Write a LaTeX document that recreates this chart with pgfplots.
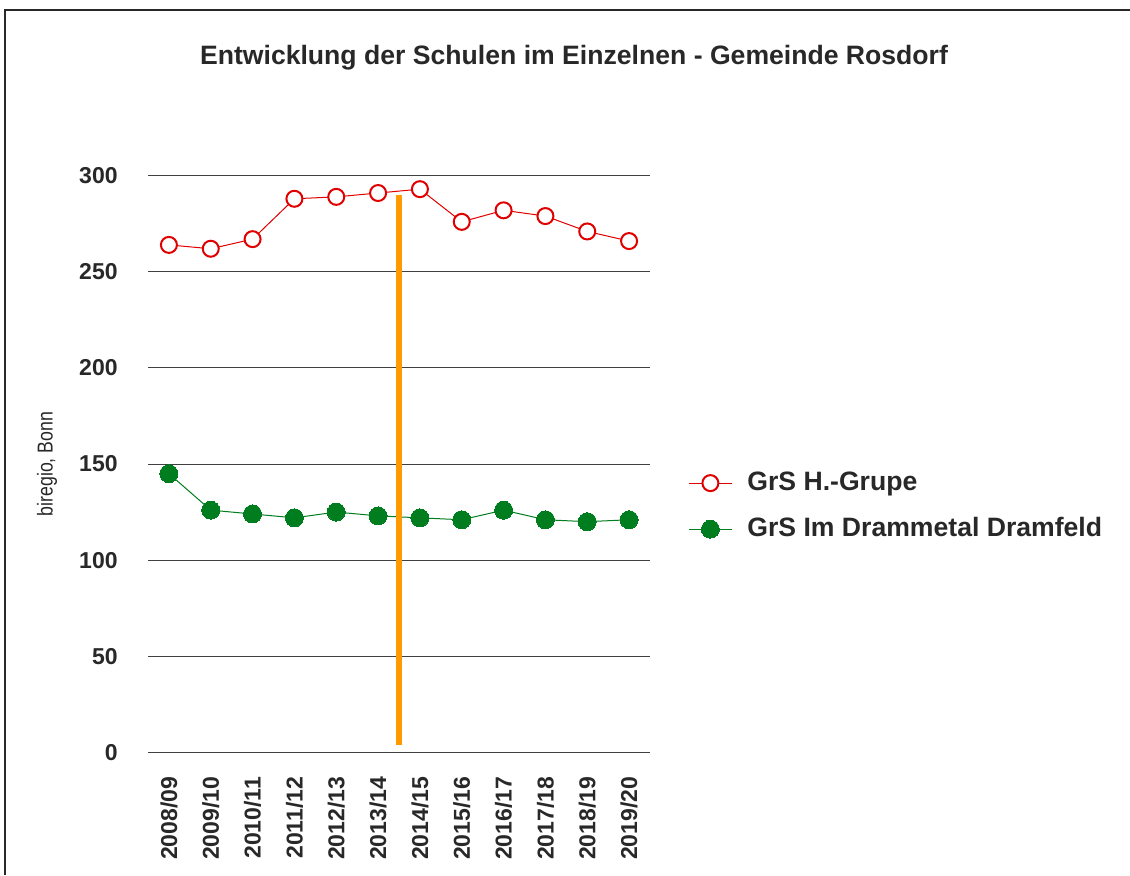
\documentclass[border=0pt]{standalone}
\usepackage{pgfplots}
\pgfplotsset{compat=1.18}
\usepackage{fontspec}
\setmainfont{Liberation Sans}
\newfontfamily\narrowfont[FakeStretch=0.82]{Liberation Sans}
\definecolor{rd}{RGB}{225,0,0}
\definecolor{gn}{RGB}{0,125,30}
\definecolor{og}{RGB}{255,155,0}
\definecolor{gr}{RGB}{40,40,40}
\begin{document}
\begin{tikzpicture}
\useasboundingbox (0,0) rectangle (565pt,-437.5pt);
\fill[white] (0,0) rectangle (565pt,-437.5pt);
\draw[gr, line width=0.8pt] (2.35pt,-437.5pt) -- (2.35pt,-5pt) -- (565pt,-5pt);
\node[font=\bfseries\fontsize{13.3}{15}\selectfont, text=gr] at (287pt,-29pt) {Entwicklung der Schulen im Einzelnen - Gemeinde Rosdorf};
\begin{axis}[
  at={(74pt,-376.15pt)}, anchor=south west,
  scale only axis, width=251pt, height=288.3pt,
  xmin=-0.5, xmax=11.5, ymin=0, ymax=300,
  ytick={0,50,...,300},
  xtick={0,...,11},
  xticklabels={2008/09,2009/10,2010/11,2011/12,2012/13,2013/14,2014/15,2015/16,2016/17,2017/18,2018/19,2019/20},
  ymajorgrids, grid style={black!75, line width=0.5pt},
  axis line style={draw=none},
  major tick length=0pt,
  clip=false,
  tick label style={font=\bfseries\fontsize{11.5}{13}\selectfont, text=gr},
  /pgf/number format/assume math mode=true,
  yticklabel style={anchor=east, inner sep=0pt, xshift=-15pt},
  xticklabel style={yshift=-12pt, rotate=90, anchor=east, inner sep=0pt},
  ylabel={biregio, Bonn},
  ylabel style={at={(axis description cs:-0.2012,0.5)}, anchor=center, font=\narrowfont\fontsize{10.8}{12}\selectfont, text=gr},
  legend style={at={(axis description cs:1.0757,0.427)}, anchor=west, draw=none, fill=none, inner sep=0pt,
    font=\bfseries\fontsize{13.3}{15}\selectfont, text=gr, row sep=11pt, column sep=7.5pt,
    nodes={inner sep=0pt, text height=9.5pt, text depth=2.5pt}},
  legend cell align=left,
  legend image code/.code={\draw[mark repeat=2,mark phase=2,#1] plot coordinates {(0pt,0pt) (10.75pt,0pt) (21.5pt,0pt)};},
]
\addplot[rd, line width=0.5pt, mark=*, mark size=4pt, mark options={fill=white, draw=rd, line width=1pt}]
  coordinates {(0,264) (1,262) (2,267) (3,288) (4,289) (5,291) (6,293) (7,276) (8,282) (9,279) (10,271) (11,266)};
\addlegendentry{GrS H.-Grupe}
\addplot[gn, line width=0.5pt, mark=*, mark size=4.5pt, mark options={fill=gn, draw=gn, line width=0pt}]
  coordinates {(0,145) (1,126) (2,124) (3,122) (4,125) (5,123) (6,122) (7,121) (8,126) (9,121) (10,120) (11,121)};
\addlegendentry{GrS Im Drammetal Dramfeld}
\addplot[og, line width=2.8pt, forget plot] coordinates {(5.5,4) (5.5,290)};
\end{axis}
\end{tikzpicture}
\end{document}
